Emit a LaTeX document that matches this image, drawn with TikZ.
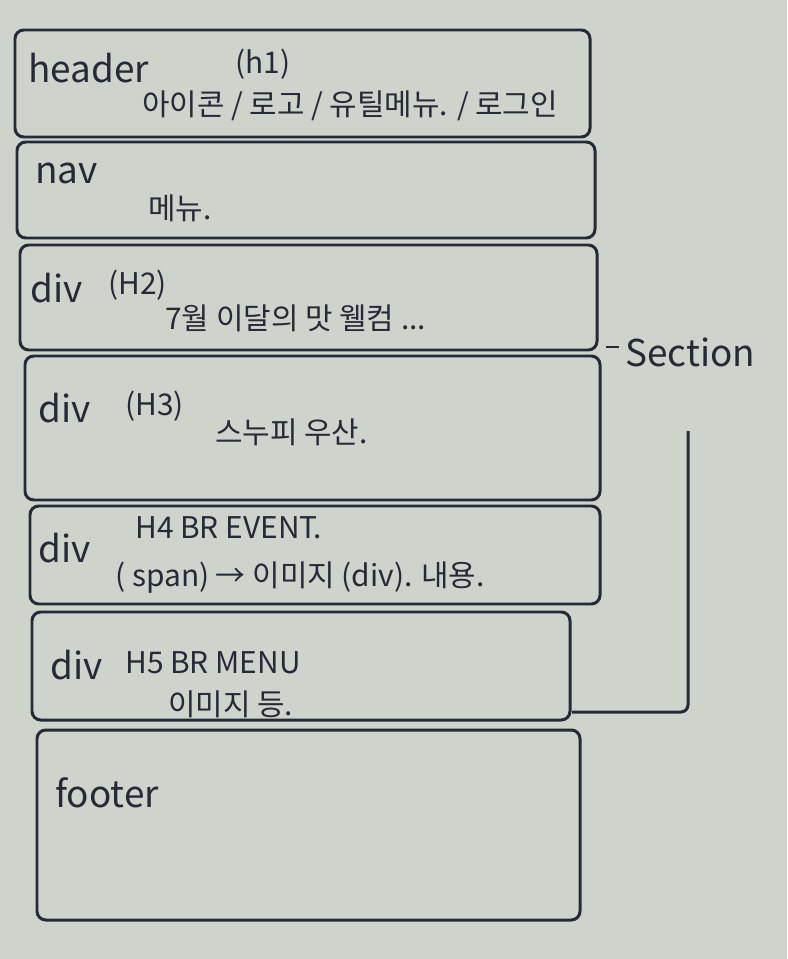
\documentclass[tikz,border=0pt]{standalone}
\usepackage{fontspec}
\setmainfont{Noto Sans CJK KR}
\usepackage{tikz}
\usetikzlibrary{positioning}
\definecolor{papier}{RGB}{206,211,204}
\definecolor{encre}{RGB}{38,42,56}
\tikzstyle{boite} = [draw=encre,line width=1.7pt,rounded corners=5pt]
\tikzstyle{balise} = [text=encre,inner sep=0pt,anchor=west,font=\fontsize{21}{24}\selectfont]
\tikzstyle{contenu} = [text=encre,inner sep=0pt,anchor=west,font=\fontsize{17}{20}\selectfont]
\tikzstyle{trait} = [draw=encre,line width=1.7pt,rounded corners=4pt]

\begin{document}
\begin{tikzpicture}[x=0.02cm,y=-0.02cm]
	\fill[papier] (0,0) rectangle (787,959);

	% header
	\draw[boite] (15,30) rectangle (590,137);
	\node[balise] (header) at (28,68) {header};
	\node[contenu] (h1) at (235,64) {(h1)};
	\node[contenu] (hcont) at (142,106) {아이콘 / 로고 / 유틸메뉴. / 로그인};

	% nav
	\draw[boite] (17,142) rectangle (595,238);
	\node[balise] (nav) at (35,173) {nav};
	\node[contenu] (ncont) at (148,208) {메뉴.};

	% div H2
	\draw[boite] (20,245) rectangle (597,350);
	\node[balise] (div2) at (30,288) {div};
	\node[contenu] (h2) at (108,285) {(H2)};
	\node[contenu] (cont2) at (165,318) {7월 이달의 맛 웰컴 ...};

	% div H3
	\draw[boite] (25,356) rectangle (600,500);
	\node[balise] (div3) at (38,408) {div};
	\node[contenu] (h3) at (125,406) {(H3)};
	\node[contenu] (cont3) at (215,432) {스누피 우산.};

	% div H4
	\draw[boite] (30,506) rectangle (600,604);
	\node[balise] (div4) at (38,548) {div};
	\node[contenu] (h4) at (135,528) {H4 BR EVENT.};
	\node[contenu] (cont4) at (115,578) {( span) → 이미지 (div). 내용.};

	% div H5
	\draw[boite] (32,612) rectangle (570,720);
	\node[balise] (div5) at (50,665) {div};
	\node[contenu] (h5) at (125,663) {H5 BR MENU};
	\node[contenu] (cont5) at (168,704) {이미지 등.};

	% footer
	\draw[boite] (37,730) rectangle (580,920);
	\node[balise] (footer) at (55,793) {footer};

	% section
	\node[balise] (section) at (625,352) {Section};
	\coordinate (s1) at (606,347);
	\coordinate (s2) at (619,347);
	\draw[trait] (s1) -- (s2);
	\coordinate (b1) at (688,431);
	\coordinate (b2) at (688,712);
	\coordinate (b3) at (572,712);
	\draw[trait] (b1) -- (b2) -- (b3);
\end{tikzpicture}
\end{document}
